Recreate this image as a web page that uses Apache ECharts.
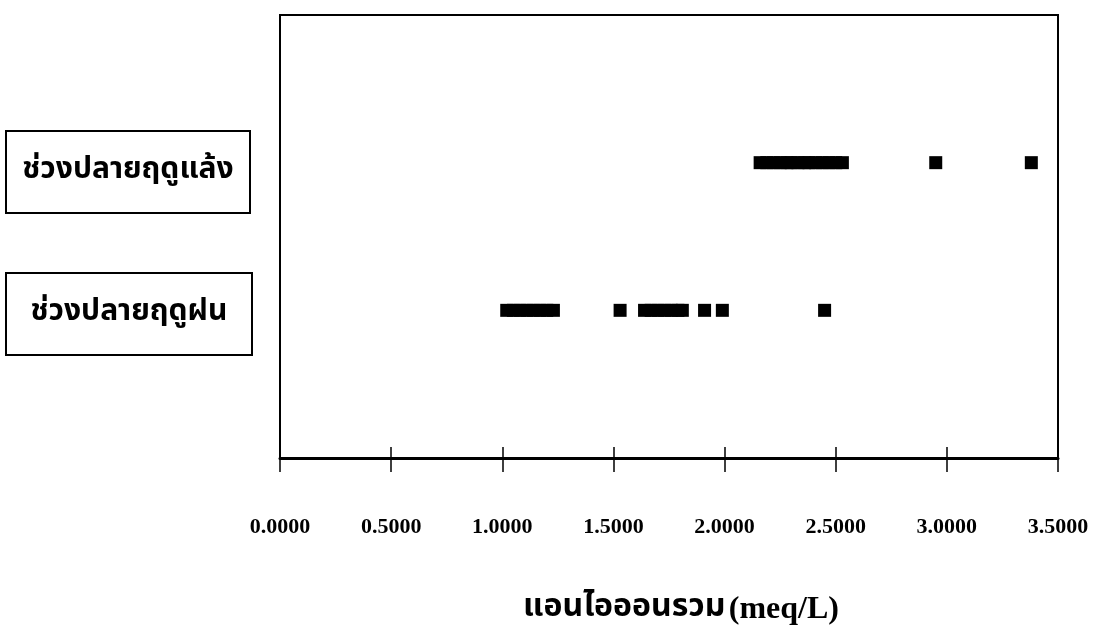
<!DOCTYPE html>
<html>
<head>
<meta charset="utf-8">
<script src="https://cdn.jsdelivr.net/npm/echarts@6/dist/echarts.min.js"></script>
<style>
html,body{margin:0;padding:0;background:#fff;}
#chart{width:1105px;height:639px;}
</style>
</head>
<body>
<div id="chart"></div>
<script>
// Categories (top to bottom) and their row positions on the hidden vertical scale
const categories = ['ช่วงปลายฤดูแล้ง', 'ช่วงปลายฤดูฝน'];
const rowIndex = [2, 1];
// Total anion values (meq/L)
const dryEndValues = [2.16, 2.19, 2.22, 2.25, 2.28, 2.30, 2.33, 2.36, 2.38, 2.41, 2.44, 2.47, 2.50, 2.53, 2.95, 3.38];
const wetEndValues = [1.02, 1.05, 1.08, 1.11, 1.14, 1.17, 1.20, 1.23, 1.53, 1.64, 1.67, 1.70, 1.73, 1.76, 1.79, 1.81, 1.91, 1.99, 2.45];
const xMin = 0, xMax = 3.5, xStep = 0.5;
const xTitleThai = 'แอนไอออนรวม';
const xTitleUnit = '(meq/L)';

const thaiFont = "'Noto Sans Thai','Loma','Garuda','Tlwg Typo','Norasi','Noto Sans',sans-serif";
const serifFont = "'Liberation Serif','DejaVu Serif',serif";

const chart = echarts.init(document.getElementById('chart'), null, {renderer: 'canvas'});

const boxes = [
  {y: 131, h: 82, w: 244},
  {y: 273, h: 82, w: 246}
];

const graphic = [];
categories.forEach((c, i) => {
  graphic.push({
    type: 'rect',
    shape: {x: 6, y: boxes[i].y, width: boxes[i].w, height: boxes[i].h},
    style: {fill: '#fff', stroke: '#000', lineWidth: 2}
  });
  graphic.push({
    type: 'text',
    x: 6 + boxes[i].w / 2,
    y: boxes[i].y + boxes[i].h / 2,
    style: {text: c, fill: '#000', font: 'bold 30px ' + thaiFont, textAlign: 'center', textVerticalAlign: 'middle'}
  });
});
graphic.push({
  type: 'text',
  x: 681, y: 610,
  style: {
    text: '{a|' + xTitleThai + '} {b|' + xTitleUnit + '}',
    textAlign: 'center', textVerticalAlign: 'middle',
    rich: {
      a: {fontFamily: thaiFont, fontWeight: 'bold', fontSize: 32, fill: '#000', color: '#000'},
      b: {fontFamily: serifFont, fontWeight: 'bold', fontSize: 32, fill: '#000', color: '#000'}
    }
  }
});

chart.setOption({
  animation: false,
  backgroundColor: '#fff',
  grid: {left: 280, right: 47, top: 15, bottom: 181, show: true, borderColor: '#000', borderWidth: 2, backgroundColor: 'transparent'},
  xAxis: [
    {
      type: 'value', min: xMin, max: xMax, interval: xStep, position: 'bottom',
      axisLine: {show: true, onZero: false, lineStyle: {color: '#000', width: 3}},
      axisTick: {show: true, length: 14, lineStyle: {color: '#000', width: 1.5}},
      splitLine: {show: false},
      axisLabel: {margin: 58, color: '#000', fontFamily: serifFont, fontWeight: 'bold', fontSize: 22,
        formatter: v => v.toFixed(4)}
    },
    {
      type: 'value', min: xMin, max: xMax, interval: xStep, position: 'bottom',
      axisLine: {show: false},
      axisTick: {show: true, inside: true, length: 11, lineStyle: {color: '#000', width: 1.5}},
      splitLine: {show: false},
      axisLabel: {show: false}
    }
  ],
  yAxis: {type: 'value', min: 0, max: 3, show: false},
  graphic: graphic,
  series: [
    {
      name: categories[0], type: 'scatter', symbol: 'rect', symbolSize: 13,
      itemStyle: {color: '#000', opacity: 1},
      data: dryEndValues.map(v => [v, rowIndex[0]])
    },
    {
      name: categories[1], type: 'scatter', symbol: 'rect', symbolSize: 13,
      itemStyle: {color: '#000', opacity: 1},
      data: wetEndValues.map(v => [v, rowIndex[1]])
    }
  ]
});
</script>
</body>
</html>
